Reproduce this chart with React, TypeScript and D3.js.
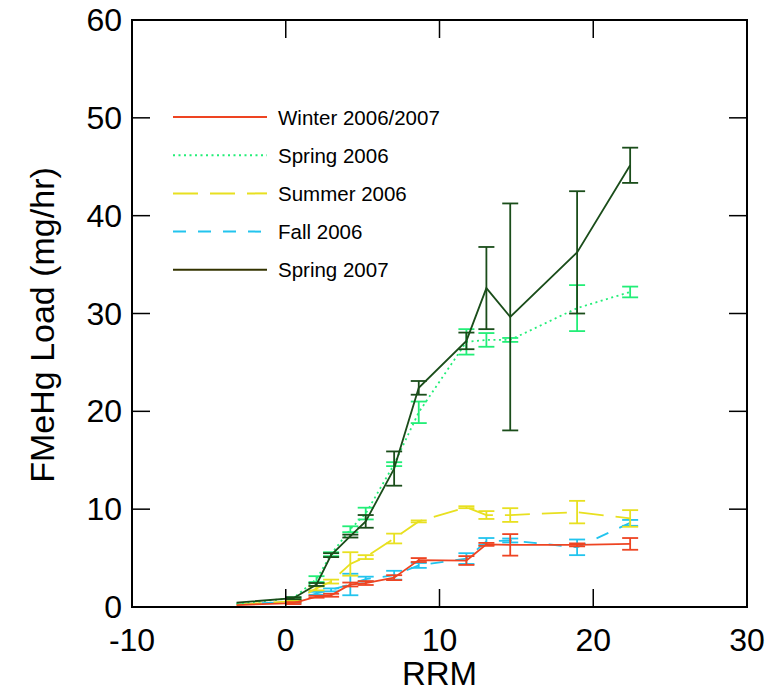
import React from "react";
import * as d3 from "d3";

const xValues = [-3.2, 0.5, 2.0, 2.95, 4.2, 5.2, 7.05, 8.65, 11.75, 13.05, 14.6, 18.95, 22.4];

const winterVals = [0.2, 0.4, 1.05, 1.2, 2.3, 2.45, 3.0, 4.8, 4.75, 6.4, 6.35, 6.35, 6.45];
const winterErr = [0, 0.1, 0.1, 0.15, 0.2, 0.2, 0.25, 0.2, 0.45, 0.15, 1.1, 0.15, 0.6];

const spring06Vals = [0.35, 0.9, 2.85, 5.4, 7.95, 9.55, 14.6, 19.9, 27.1, 27.3, 27.3, 30.55, 32.2];
const spring06Err = [0, 0.1, 0.3, 0.2, 0.3, 0.6, 0.2, 1.1, 1.3, 0.7, 0.2, 2.35, 0.55];

const summerVals = [0.25, 0.6, 1.9, 2.6, 4.4, 5.1, 7.0, 8.75, 10.2, 9.4, 9.4, 9.7, 9.05];
const summerErr = [0, 0.1, 0.2, 0.2, 1.2, 0.2, 0.5, 0.1, 0.1, 0.4, 0.7, 1.15, 0.85];

const fallVals = [0.3, 0.5, 1.4, 1.75, 2.3, 2.85, 3.25, 4.25, 4.95, 6.7, 6.8, 6.1, 8.6];
const fallErr = [0, 0.1, 0.15, 0.15, 1.1, 0.25, 0.45, 0.25, 0.55, 0.35, 0.2, 0.8, 0.3];

const spring07Vals = [0.45, 0.9, 2.3, 5.3, 7.25, 8.75, 14.15, 22.4, 27.2, 32.6, 29.65, 36.25, 45.15];
const spring07Err = [0, 0.1, 0.15, 0.2, 0.15, 0.65, 1.75, 0.7, 0.85, 4.2, 11.6, 6.25, 1.8];

const xTicks = [-10, 0, 10, 20, 30];
const yTicks = [0, 10, 20, 30, 40, 50, 60];

const seriesNames = ["Winter 2006/2007", "Spring 2006", "Summer 2006", "Fall 2006", "Spring 2007"];
const seriesColors = ["#ee4422", "#22ee77", "#e8e020", "#22c4ee", "#1a4d1a"];
const legendColors = ["#ee4422", "#22ee77", "#e8e020", "#22c4ee", "#333300"];
const seriesDash = ["none", "2 3.5", "25 12", "13 12", "none"];

const seriesVals = [winterVals, spring06Vals, summerVals, fallVals, spring07Vals];
const seriesErrs = [winterErr, spring06Err, summerErr, fallErr, spring07Err];
const drawOrder = [3, 2, 1, 0, 4];

export default function App() {
  const W = 781, H = 694;
  const left = 132, right = 747, top = 20, bottom = 607;
  const x = d3.scaleLinear().domain([-10, 30]).range([left, right]);
  const y = d3.scaleLinear().domain([0, 60]).range([bottom, top]);
  const tickLen = 18;
  const font = "'Liberation Sans', Arial, Helvetica, sans-serif";
  const line = d3.line<[number, number]>().x(d => x(d[0])).y(d => y(d[1]));

  return (
    <svg width={W} height={H} style={{ position: "absolute", left: 0, top: 0, background: "#fff" }} fontFamily={font}>
      <rect x={0} y={0} width={W} height={H} fill="#fff" />
      {drawOrder.map(si => {
        const vals = seriesVals[si];
        const errs = seriesErrs[si];
        const pts: [number, number][] = xValues.map((xv, i) => [xv, vals[i]]);
        return (
          <g key={si}>
            <path d={line(pts) || ""} fill="none" stroke={seriesColors[si]} strokeWidth={1.8}
              strokeDasharray={seriesDash[si]} />
            {xValues.map((xv, i) => {
              if (!errs[i]) return null;
              const cx = x(xv);
              const y1 = y(vals[i] + errs[i]);
              const y2 = y(vals[i] - errs[i]);
              return (
                <g key={i} stroke={seriesColors[si]} strokeWidth={1.8}>
                  <line x1={cx} x2={cx} y1={y1} y2={y2} />
                  <line x1={cx - 8} x2={cx + 8} y1={y1} y2={y1} />
                  <line x1={cx - 8} x2={cx + 8} y1={y2} y2={y2} />
                </g>
              );
            })}
          </g>
        );
      })}
      <rect x={left} y={top} width={right - left} height={bottom - top} fill="none" stroke="#000" strokeWidth={2} />
      {xTicks.map(t => (
        <g key={"x" + t}>
          <line x1={x(t)} x2={x(t)} y1={bottom} y2={bottom - tickLen} stroke="#000" strokeWidth={1.5} />
          <line x1={x(t)} x2={x(t)} y1={top} y2={top + tickLen} stroke="#000" strokeWidth={1.5} />
          <text x={x(t)} y={651} textAnchor="middle" fontSize={32} fill="#000">{t}</text>
        </g>
      ))}
      {yTicks.map(t => (
        <g key={"y" + t}>
          <line x1={left} x2={left + tickLen} y1={y(t)} y2={y(t)} stroke="#000" strokeWidth={1.5} />
          <line x1={right} x2={right - tickLen} y1={y(t)} y2={y(t)} stroke="#000" strokeWidth={1.5} />
          <text x={122} y={y(t)} textAnchor="end" dominantBaseline="central" fontSize={32} fill="#000">{t}</text>
        </g>
      ))}
      <text x={(left + right) / 2} y={685} textAnchor="middle" fontSize={33} fill="#000">RRM</text>
      <text transform={`translate(41.5,325) rotate(-90)`} textAnchor="middle" dominantBaseline="central" fontSize={34} fill="#000">FMeHg Load (mg/hr)</text>
      {seriesNames.map((name, i) => {
        const ly = 117 + i * 38.2;
        return (
          <g key={name}>
            <line x1={173} x2={267} y1={ly} y2={ly} stroke={legendColors[i]} strokeWidth={2}
              strokeDasharray={seriesDash[i]} />
            <text x={278} y={ly} dominantBaseline="central" fontSize={20.5} fill="#000">{name}</text>
          </g>
        );
      })}
    </svg>
  );
}
